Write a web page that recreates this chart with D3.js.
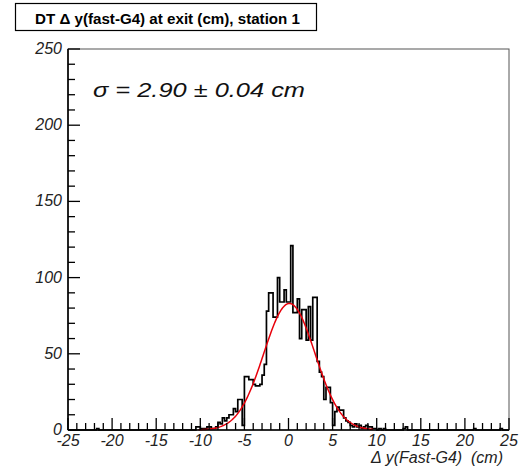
<!DOCTYPE html>
<html><head><meta charset="utf-8">
<script src="https://cdn.jsdelivr.net/npm/d3@7/dist/d3.min.js"></script>
<style>
html,body{margin:0;padding:0;background:#fff;}
svg{display:block;font-family:"Liberation Sans",Arial,Helvetica,sans-serif;}
</style></head>
<body><svg id="c" width="530" height="467"></svg>
<script>
// ---- data ----
const titleText = "DT \u0394 y(fast-G4) at exit (cm), station 1";
const xTitle = "\u0394 y(Fast-G4)  (cm)";
const fitLabel = "\u03c3 = 2.90 \u00b1 0.04 cm";
const xTicks = [-25, -20, -15, -10, -5, 0, 5, 10, 15, 20, 25];
const yTicks = [0, 50, 100, 150, 200, 250];
const binWidth = 0.25;
const coreStart = -11;              // first bin low edge of the core block
const coreCounts = [
  0, 0, 2, 2, 1, 1, 1, 2, 2, 1, 1, 2,          // -11 .. -8.25
  5, 4, 8, 6, 8, 10, 10, 14, 12, 20, 20, 3,    // -8 .. -5.25
  35, 35, 33, 33, 30, 29, 29, 30, 36, 43, 78, 90, // -5 .. -2.25
  90, 74, 74, 100, 84, 84, 92, 84,             // -2 .. -0.25
  84, 121, 77, 77, 86, 60, 79, 79, 59, 81, 59, 87, // 0 .. 2.75
  87, 45, 38, 35, 20, 28, 28, 18, 3, 12, 15, 13,  // 3 .. 5.75
  13, 8, 6, 5, 3, 2, 4, 2, 3, 1, 2, 3,          // 6 .. 8.75
  2, 2, 1, 1, 0, 1, 0, 1, 0, 0                  // 9 .. 11.25
];
const tailLows = [-21.75, 13.0, 13.25, 21.0, 24.0];
const tailCounts = [1, 1, 2, 1, 1];
const fitAmp = 83, fitMean = 0.1, fitSigma = 2.9;
const fitRange = [-10.2, 9.6];

// ---- layout ----
const L = 68, R = 509, T = 49, B = 430;
const svg = d3.select("#c");
const x = d3.scaleLinear().domain([-25, 25]).range([L, R]);
const y = d3.scaleLinear().domain([0, 250]).range([B, T]);

// build full bin list
const bins = [];
const nAll = Math.round(50 / binWidth);
const counts = new Array(nAll).fill(0);
coreCounts.forEach((c, i) => { counts[Math.round((coreStart + i * binWidth + 25) / binWidth)] = c; });
tailLows.forEach((lo, i) => { counts[Math.round((lo + 25) / binWidth)] = tailCounts[i]; });
for (let i = 0; i < nAll; i++) bins.push({lo: -25 + i * binWidth, hi: -25 + (i + 1) * binWidth, c: counts[i]});

// frame (top/right grey)
svg.append("rect").attr("x", L).attr("y", T).attr("width", R - L).attr("height", B - T)
  .attr("fill", "none").attr("stroke", "#555").attr("stroke-width", 1);

// histogram step outline
let pts = [[x(-25), y(0)]];
bins.forEach(b => { pts.push([x(b.lo), y(b.c)]); pts.push([x(b.hi), y(b.c)]); });
pts.push([x(25), y(0)]);
svg.append("path").attr("d", d3.line()(pts)).attr("fill", "none")
  .attr("stroke", "#000").attr("stroke-width", 1.7).attr("stroke-linejoin", "miter");

// fit curve
const fitPts = d3.range(fitRange[0], fitRange[1] + 0.001, 0.1).map(v =>
  [x(v), y(fitAmp * Math.exp(-((v - fitMean) ** 2) / (2 * fitSigma * fitSigma)))]);
svg.append("path").attr("d", d3.line()(fitPts)).attr("fill", "none")
  .attr("stroke", "#e8000b").attr("stroke-width", 1.5);

// axes: ROOT-like ticks inside the frame
const ax = svg.append("g");
ax.append("line").attr("x1", L).attr("x2", R).attr("y1", B).attr("y2", B).attr("stroke", "#000").attr("stroke-width", 1.6);
ax.append("line").attr("x1", L).attr("x2", L).attr("y1", T).attr("y2", B).attr("stroke", "#000").attr("stroke-width", 1.6);
d3.range(-25, 25.001, 1).forEach(v => {
  const major = Math.abs(v % 5) < 1e-9;
  ax.append("line").attr("x1", x(v)).attr("x2", x(v)).attr("y1", B).attr("y2", B - (major ? 12 : 7))
    .attr("stroke", "#000").attr("stroke-width", 1.3);
});
d3.range(0, 250.001, 10).forEach(v => {
  const major = v % 50 === 0;
  ax.append("line").attr("x1", L).attr("x2", L + (major ? 12 : 7)).attr("y1", y(v)).attr("y2", y(v))
    .attr("stroke", "#000").attr("stroke-width", 1.3);
});
ax.selectAll(".xl").data(xTicks).enter().append("text")
  .attr("x", d => x(d)).attr("y", 446).attr("text-anchor", "middle")
  .attr("font-size", 16).attr("font-style", "italic").attr("fill", "#222").text(d => d);
ax.selectAll(".yl").data(yTicks).enter().append("text")
  .attr("x", 62).attr("y", d => y(d) + 5).attr("text-anchor", "end")
  .attr("font-size", 16).attr("font-style", "italic").attr("fill", "#222").text(d => d);

// x title
svg.append("text").attr("x", 503).attr("y", 463).attr("text-anchor", "end")
  .attr("font-size", 16).attr("font-style", "italic").attr("fill", "#222")
  .style("white-space", "pre").text(xTitle);

// fit label
svg.append("text").attr("x", 93).attr("y", 97)
  .attr("font-size", 21).attr("font-style", "italic").attr("fill", "#111")
  .attr("textLength", 212).attr("lengthAdjust", "spacingAndGlyphs").text(fitLabel);

// title box
svg.append("rect").attr("x", 15.5).attr("y", 3.5).attr("width", 301).attr("height", 27)
  .attr("fill", "#fff").attr("stroke", "#000").attr("stroke-width", 1.2);
svg.append("text").attr("x", 35).attr("y", 24).attr("font-size", 15.5).attr("font-weight", "bold")
  .attr("fill", "#000").attr("textLength", 265).attr("lengthAdjust", "spacingAndGlyphs").text(titleText);
</script></body></html>
